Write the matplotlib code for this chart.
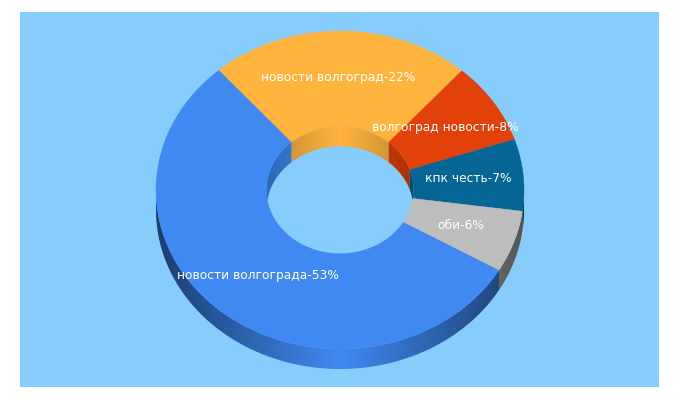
import numpy as np
import matplotlib
matplotlib.use("Agg")
import matplotlib.pyplot as plt
from matplotlib.patches import Polygon, Rectangle

# Slices, in drawing order (clockwise)
labels = ["новости волгограда", "новости волгоград", "волгоград новости", "кпк честь", "оби"]
values = [53, 22, 8, 7, 6]
colors = ["#4089F2", "#FFB43E", "#E2410A", "#056594", "#BDBDBD"]

BG = "#87CDFB"
CX, CY = 340, 190
RX, RY = 184, 159
HOLE = 0.4
DEPTH = 20
START = -30.2

# small nudges of the labels from the slice centre, in pixels
label_dx = [0, -2, -2, 0, -1]
label_dy = [0, -1, -1, -1, -1]


def rim(angles, scale=1.0, shift=0):
    a = np.radians(angles)
    return np.column_stack([CX + RX * scale * np.cos(a), CY + shift - RY * scale * np.sin(a)])


def draw_wall(ax, a0, a1, color, scale, lo):
    # horizontal gradient clipped to the wall, darker towards the sides
    if a1 <= a0:
        return
    arc = np.linspace(a0, a1, 200)
    shape = Polygon(np.vstack([rim(arc, scale), rim(arc[::-1], scale, DEPTH)]), closed=True,
                    transform=ax.transData, fc="none", ec="none")
    ax.add_patch(shape)
    xs = np.linspace(CX - RX * scale, CX + RX * scale, 400)
    k = 1 - lo * np.abs(xs - CX) / (RX * scale)
    img = k[None, :, None] * np.array(matplotlib.colors.to_rgb(color))
    im = ax.imshow(img, extent=(xs[0], xs[-1], CY + RY + DEPTH + 5, CY - RY - 5), aspect="auto",
                   interpolation="bilinear", zorder=2)
    im.set_clip_path(shape)


fig = plt.figure(figsize=(6.8, 4), dpi=100, facecolor="white")
ax = fig.add_axes([0, 0, 1, 1])

ax.add_patch(Rectangle((20, 12), 639, 375, fc=BG, ec="none", zorder=0))

sweeps = np.array(values) / sum(values) * 360
ends = START - np.cumsum(sweeps)
starts = ends + sweeps

for a1, a0, col in zip(starts, ends, colors):
    for shift in (0, 360):
        # outer wall: the part of the slice on the lower half
        draw_wall(ax, max(a0 + shift, -180), min(a1 + shift, 0), col, 1.0, 0.55)
        # inner wall: the part of the slice on the upper half
        draw_wall(ax, max(a0 + shift, 0), min(a1 + shift, 180), col, HOLE, 0.25)

for a1, a0, col in zip(starts, ends, colors):
    arc = np.linspace(a0, a1, 300)
    ring = np.vstack([rim(arc), rim(arc[::-1], HOLE)])
    ax.add_patch(Polygon(ring, closed=True, fc=col, ec=col, lw=0.3, zorder=3))

for a1, a0, name, val, dx, dy in zip(starts, ends, labels, values, label_dx, label_dy):
    x, y = rim(np.array([(a0 + a1) / 2]), 0.7)[0]
    ax.text(x + dx, y + dy, f"{name}-{val}%", color="white", fontsize=8.8, ha="center", va="center",
            family="DejaVu Sans", zorder=5)

ax.set_xlim(0, 680)
ax.set_ylim(400, 0)
ax.axis("off")

fig.savefig("out.png", dpi=100)
